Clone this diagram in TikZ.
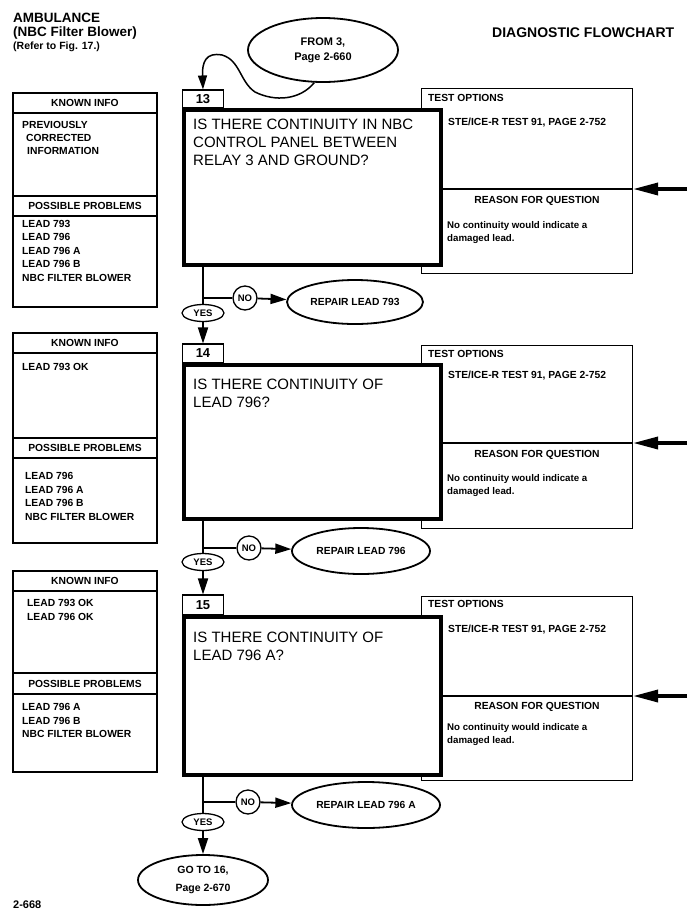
\documentclass[tikz,border=0pt]{standalone}
\usepackage{fontspec}
\setmainfont{Liberation Sans}
\usetikzlibrary{arrows.meta,shapes.geometric}

\begin{document}
\begin{tikzpicture}[
    x=1pt, y=-1pt,
    every node/.style={inner sep=0pt, font=\fontsize{10.3}{13.5}\selectfont\bfseries},
    boxline/.style={draw, line width=1.1pt},
    qframe/.style={draw, line width=3.6pt, fill=white, minimum width=257, anchor=north west},
    numbox/.style={draw, line width=1.1pt, fill=white, minimum width=41, font=\fontsize{13}{15}\selectfont\bfseries},
    optbox/.style={draw, line width=1.1pt, minimum width=211, anchor=north west},
    oval/.style={draw, ellipse, line width=1.8pt, fill=white, align=center},
    nocirc/.style={draw, circle, line width=1.3pt, fill=white, minimum size=24, font=\fontsize{9.5}{11}\selectfont\bfseries},
    yesoval/.style={draw, ellipse, line width=1.3pt, fill=white, minimum width=42, minimum height=17, font=\fontsize{9.5}{11}\selectfont\bfseries},
    qtext/.style={anchor=north west, align=left, font=\fontsize{15}{18}\selectfont},
    itemlist/.style={anchor=north west, align=left},
    reason/.style={anchor=north west, align=left, font=\fontsize{9.7}{13}\selectfont\bfseries},
    trunk/.style={line width=1.8pt},
    flow/.style={line width=1.8pt, -{Triangle[length=16pt,width=10pt]}},
    bigarrow/.style={line width=3.5pt, -{Triangle[length=25pt,width=12pt]}},
    sepline/.style={line width=2pt}
]
\useasboundingbox (0,0) rectangle (700,919);

\node[anchor=west, font=\fontsize{13.5}{16}\selectfont\bfseries] (amb) at (13,18) {AMBULANCE};
\node[anchor=west, font=\fontsize{13.5}{16}\selectfont\bfseries] (nbc) at (13,33) {(NBC Filter Blower)};
\node[anchor=west, font=\fontsize{10.5}{12}\selectfont\bfseries] (refer) at (13,47) {(Refer to Fig. 17.)};
\node[anchor=west, font=\fontsize{14}{16}\selectfont\bfseries] (diag) at (492,33) {DIAGNOSTIC FLOWCHART};
\node[anchor=west, font=\fontsize{11}{13}\selectfont\bfseries] (page) at (13,905) {2-668};

\node[oval, minimum width=150, minimum height=64, font=\fontsize{11}{15}\selectfont\bfseries] (from3) at (323,50) {FROM 3,\\Page 2-660};

% step 13
\draw[boxline] (13,93) rectangle (157,307) (13,113) -- (157,113) (13,196) -- (157,196) (13,216) -- (157,216);
\node (ki13) at (85,103) {KNOWN INFO};
\node[anchor=west] (kn13a) at (22,125) {PREVIOUSLY};
\node[anchor=west] (kn13b) at (26,138) {CORRECTED};
\node[anchor=west] (kn13c) at (27,151) {INFORMATION};
\node (pp13) at (85,206) {POSSIBLE PROBLEMS};
\node[itemlist] (pl13) at (22,220) {LEAD 793\\LEAD 796\\LEAD 796 A\\LEAD 796 B\\NBC FILTER BLOWER};

\node[optbox, minimum height=185] (opt13) at (421,88) {};
\node[anchor=west] (to13) at (428,98) {TEST OPTIONS};
\node[anchor=west] (ste13) at (448,123) {STE/ICE-R TEST 91, PAGE 2-752};
\node (rq13) at (537,201) {REASON FOR QUESTION};
\node[reason] (rs13) at (447,221) {No continuity would indicate a\\damaged lead.};

\node[qframe, minimum height=155] (q13) at (182,108) {};
\node[numbox, minimum height=18] (n13) at (203,99) {13};
\node[qtext] (q13text) at (193,119) {IS THERE CONTINUITY IN NBC\\CONTROL PANEL BETWEEN\\RELAY 3 AND GROUND?};

\coordinate (j13) at (203,298);
\node[nocirc] (no13) at (245,298) {NO};
\node[oval, minimum width=136, minimum height=44] (rep13) at (355,302) {REPAIR LEAD 793};
\node[yesoval] (yes13) at (203,313) {YES};

% step 14
\draw[boxline] (13,333) rectangle (157,543) (13,353) -- (157,353) (13,438) -- (157,438) (13,458) -- (157,458);
\node (ki14) at (85,343) {KNOWN INFO};
\node[anchor=west] (kn14) at (22,367) {LEAD 793 OK};
\node (pp14) at (85,448) {POSSIBLE PROBLEMS};
\node[itemlist] (pl14) at (25,472.4) {LEAD 796\\LEAD 796 A\\LEAD 796 B\\NBC FILTER BLOWER};

\node[optbox, minimum height=183] (opt14) at (421,345) {};
\node[anchor=west] (to14) at (428,354) {TEST OPTIONS};
\node[anchor=west] (ste14) at (448,376) {STE/ICE-R TEST 91, PAGE 2-752};
\node (rq14) at (537,455) {REASON FOR QUESTION};
\node[reason] (rs14) at (447,474) {No continuity would indicate a\\damaged lead.};

\node[qframe, minimum height=154] (q14) at (182,363) {};
\node[numbox, minimum height=19] (n14) at (203,353.5) {14};
\node[qtext] (q14text) at (193,379) {IS THERE CONTINUITY OF\\LEAD 796?};

\coordinate (j14) at (203,548);
\node[nocirc] (no14) at (249,548) {NO};
\node[oval, minimum width=138, minimum height=46] (rep14) at (361,551) {REPAIR LEAD 796};
\node[yesoval] (yes14) at (203,562) {YES};

% step 15
\draw[boxline] (13,571) rectangle (157,772) (13,591) -- (157,591) (13,673) -- (157,673) (13,694) -- (157,694);
\node (ki15) at (85,581) {KNOWN INFO};
\node[itemlist] (kn15) at (27,599.4) {LEAD 793 OK\\LEAD 796 OK};
\node (pp15) at (85,683.5) {POSSIBLE PROBLEMS};
\node[itemlist] (pl15) at (22,703.4) {LEAD 796 A\\LEAD 796 B\\NBC FILTER BLOWER};

\node[optbox, minimum height=184] (opt15) at (421,596) {};
\node[anchor=west] (to15) at (428,604) {TEST OPTIONS};
\node[anchor=west] (ste15) at (448,630) {STE/ICE-R TEST 91, PAGE 2-752};
\node (rq15) at (537,707) {REASON FOR QUESTION};
\node[reason] (rs15) at (447,723) {No continuity would indicate a\\damaged lead.};

\node[qframe, minimum height=158] (q15) at (182,615) {};
\node[numbox, minimum height=20] (n15) at (203,605) {15};
\node[qtext] (q15text) at (193,632) {IS THERE CONTINUITY OF\\LEAD 796 A?};

\coordinate (j15) at (203,802);
\node[nocirc] (no15) at (248,802) {NO};
\node[oval, minimum width=148, minimum height=46] (rep15) at (366,805) {REPAIR LEAD 796 A};
\node[yesoval] (yes15) at (203,822) {YES};

\node[oval, minimum width=130, minimum height=50, font=\fontsize{10.5}{18}\selectfont\bfseries] (go16) at (203,880) {GO TO 16,\\Page 2-670};

% connectors
\draw[line width=1.5pt, -{Triangle[length=14pt,width=9pt]}] (from3.255)
    .. controls (300,100) and (275,102) .. (255,92)
    .. controls (240,82) and (240,60) .. (222,55)
    .. controls (206,52) and (202,62) .. (n13.north);

\foreach \k/\yy in {13/189,14/443,15/696} {
    \coordinate (in\k) at (687,\yy);
    \draw[sepline] (q\k.east |- in\k) -- (opt\k.east |- in\k);
    \draw[bigarrow] (in\k) -- (opt\k.east |- in\k);
}

\foreach \k/\nx in {13/n14,14/n15,15/go16} {
    \draw[trunk] (q\k.south -| j\k) -- (j\k) -- (no\k);
    \draw[trunk] (j\k) -- (yes\k);
    \draw[flow] (no\k) -- (rep\k);
    \draw[flow] (yes\k) -- (\nx);
}
\end{tikzpicture}
\end{document}
